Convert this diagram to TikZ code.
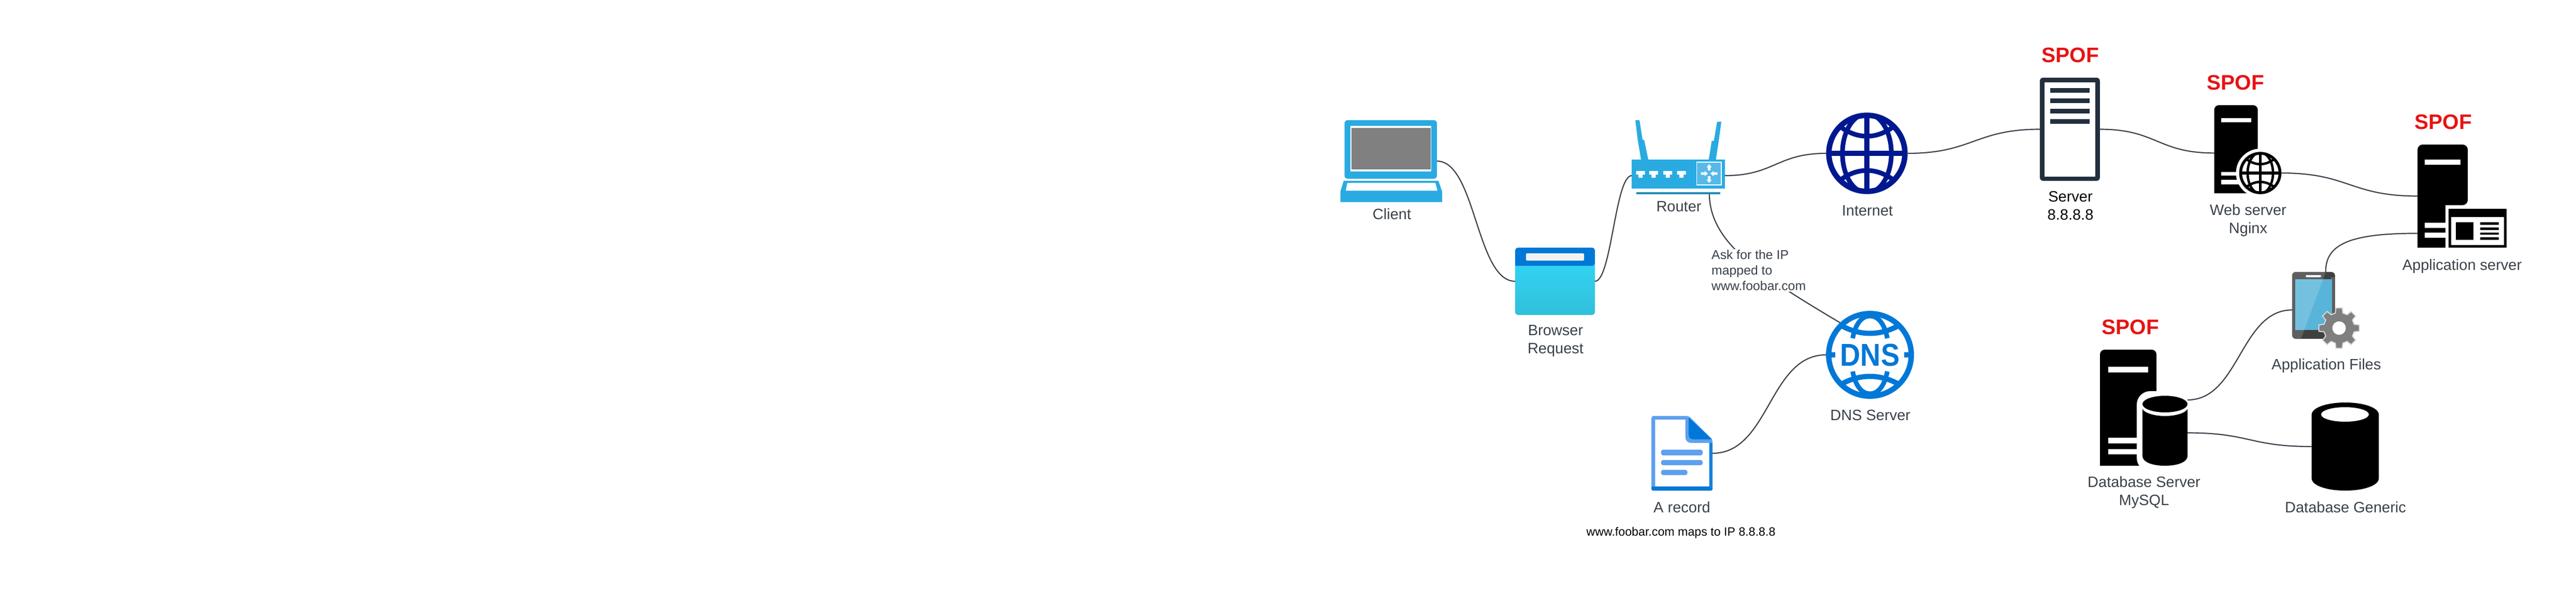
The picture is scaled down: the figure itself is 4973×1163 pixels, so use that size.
\documentclass[tikz,border=0pt]{standalone}
\usepackage{fontspec}
\setmainfont{Liberation Sans}
\definecolor{labelc}{HTML}{3A414A}
\definecolor{lapblue}{HTML}{29ABE2}
\definecolor{panelc}{HTML}{56B9E8}
\definecolor{barc}{HTML}{1F88B8}
\definecolor{msblue}{HTML}{0078D7}
\definecolor{cyanb}{HTML}{32D4F5}
\definecolor{cyanc}{HTML}{31C0DB}
\definecolor{navy}{HTML}{00188F}
\definecolor{servc}{HTML}{232F3E}
\definecolor{spofc}{HTML}{E81313}
\definecolor{docl}{HTML}{5EA0EF}
\definecolor{phoned}{HTML}{404040}
\definecolor{phonem}{HTML}{5F5F5F}
\definecolor{scrd}{HTML}{59B4D9}
\definecolor{scrl}{HTML}{74C1DF}
\definecolor{gearc}{HTML}{7F7F7F}
\newcommand{\myglobe}[4]{%
  \begin{scope}[shift={(#1,#2)},x=#3pt,y=#3pt]
    \begin{scope}
      \clip (0,0) circle [radius=.97];
      \draw[#4,line width={0.125*#3 pt}] (0,-1) -- (0,1);
      \draw[#4,line width={0.125*#3 pt}] (-1,0) -- (1,0);
      \draw[#4,line width={0.115*#3 pt}] (0,0) ellipse [x radius=.6,y radius=.97];
      \draw[#4,line width={0.115*#3 pt}] (-.8,-.78) .. controls (-.3,-.3) and (.3,-.3) .. (.8,-.78);
      \draw[#4,line width={0.115*#3 pt}] (-.8,.78) .. controls (-.3,.3) and (.3,.3) .. (.8,.78);
    \end{scope}
    \draw[#4,line width={0.135*#3 pt}] (0,0) circle [radius=.9325];
  \end{scope}}
\tikzset{
  iconbox/.style 2 args={rectangle,inner sep=0pt,outer sep=0pt,minimum width=#1pt,minimum height=#2pt},
  iconround/.style={circle,inner sep=0pt,outer sep=0pt,minimum size=#1pt},
  link/.style={draw=labelc,line width=2.2pt},
  lab/.style={font=\fontsize{29}{35}\selectfont,text=labelc,inner sep=0pt,align=center},
  labk/.style={font=\fontsize{29}{35}\selectfont,text=black,inner sep=0pt,align=center},
  asklab/.style={font=\fontsize{24.8}{30}\selectfont,text=labelc,inner sep=2pt,align=left,fill=white,anchor=west},
  notelab/.style={font=\fontsize{23.2}{28}\selectfont,text=black,inner sep=0pt},
  spof/.style={font=\fontsize{40.6}{48}\selectfont\bfseries,text=spofc,inner sep=0pt},
}
\begin{document}
\begin{tikzpicture}[x=1pt,y=-1pt]
\useasboundingbox (0,0) rectangle (4973,1163);

% Client laptop
\fill[lapblue,rounded corners=6] (2595.6,232) rectangle (2774,345);
\fill[white] (2607,243) rectangle (2763,331);
\fill[gray!100] (2609,247) rectangle (2762,327);
\fill[lapblue] (2594,349) -- (2777,349) -- (2784,370) -- (2784,390) -- (2587.5,390) -- (2587.5,370) -- cycle;
\fill[white] (2601,353) -- (2771,353) -- (2775,368) -- (2598,368) -- cycle;
\node[iconbox={178.4}{158}] (client) at (2684.8,311) {};

% Browser
\shade[top color=cyanb,middle color=cyanb,bottom color=cyanc,rounded corners=6] (2925,500) rectangle (3079,608);
\fill[msblue] (2925,513) [rounded corners=6] -- (2925,478) -- (3079,478) -- (3079,513) [sharp corners] -- cycle;
\fill[black!5,rounded corners=2] (2946,489) rectangle (3058,503);
\node[iconbox={154}{130}] (browser) at (3002,543) {};

% Router
\fill[lapblue] (3157,232) -- (3165,232) -- (3171,270) -- (3174,270) -- (3182,308) -- (3168,308) -- (3161.6,270) -- cycle;
\fill[lapblue] (3315,235) -- (3323,235) -- (3318,272) -- (3312.5,308) -- (3298.7,308) -- (3304.5,272) -- (3308.5,272) -- cycle;
\fill[lapblue] (3150,308) rectangle (3330,364);
\fill[barc] (3158.5,371) rectangle (3321,375);
\foreach \cx in {3167,3192.4,3219.6,3246}{
  \fill[white] ({\cx-8.5},330) -- ({\cx+8.5},330) -- ({\cx+8.5},337) -- ({\cx+4},337) -- ({\cx+4},343) -- ({\cx-4},343) -- ({\cx-4},337) -- ({\cx-8.5},337) -- cycle;
}
\fill[panelc,draw=white,line width=1.2pt] (3275.4,313) rectangle (3323,357);
\fill[white] (3299.5,316.7) -- (3304.5,323) -- (3302,323) -- (3302,329) -- (3297,329) -- (3297,323) -- (3294.5,323) -- cycle;
\fill[white] (3299.5,353) -- (3304.5,347) -- (3302,347) -- (3302,340) -- (3297,340) -- (3297,347) -- (3294.5,347) -- cycle;
\fill[white] (3297,335) -- (3291,330) -- (3291,332.7) -- (3283.5,332.7) -- (3283.5,337.3) -- (3291,337.3) -- (3291,340) -- cycle;
\fill[white] (3302,335) -- (3308,330) -- (3308,332.7) -- (3315.6,332.7) -- (3315.6,337.3) -- (3308,337.3) -- (3308,340) -- cycle;
\node[iconbox={180}{72}] (router) at (3240,339) {};

% Internet globe
\myglobe{3604}{296}{78.7}{navy}
\node[iconround=157.4] (internet) at (3604,296) {};

% DNS globe
\begin{scope}[shift={(3610,685)}]
  \begin{scope}
    \clip (0,0) circle [radius=82];
    \draw[msblue,line width=10pt] (-58,-58) .. controls (-20,-36) and (20,-36) .. (58,-58);
    \draw[msblue,line width=10pt] (-58,58) .. controls (-20,36) and (20,36) .. (58,58);
    \draw[msblue,line width=9pt] (-33.5,-32) .. controls (-28,-60) and (-16,-75) .. (0,-75) .. controls (16,-75) and (28,-60) .. (33.5,-32);
    \draw[msblue,line width=9pt] (-33.5,32) .. controls (-28,60) and (-16,75) .. (0,75) .. controls (16,75) and (28,60) .. (33.5,32);
  \end{scope}
  \draw[msblue,line width=10.5pt] (0,0) circle [radius=79.7];
  \draw[msblue,line width=10pt] (-85,0) -- (-67,0);
  \draw[msblue,line width=10pt] (66,0) -- (84,0);
\end{scope}
\node[text=msblue,inner sep=0pt,font=\fontsize{61}{61}\selectfont\bfseries] (dnsword) at (3610,685) {\scalebox{.89}[1]{DNS}};
\node[iconround=170] (dns) at (3610,685) {};

% A record document
\fill[docl,rounded corners=4] (3188,947) -- (3188,803) -- (3260,803) -- (3306,849) -- (3306,947) -- cycle;
\fill[white] (3195.4,939) -- (3195.4,810) -- (3253.6,810) -- (3253.6,843) .. controls (3253.6,851) and (3258,855) .. (3265,855) -- (3299.5,855) -- (3299.5,939) -- cycle;
\fill[msblue] (3260,806) -- (3305,848) -- (3268,848) .. controls (3263,848) and (3260,844) .. (3260,838) -- cycle;
\fill[msblue,rounded corners=3] (3188,939) rectangle (3306,947);
\fill[msblue!80!docl] (3299.5,855) rectangle (3306,942);
\fill[docl,rounded corners=4] (3206.6,868) rectangle (3287,879);
\fill[docl,rounded corners=4] (3206.6,888) rectangle (3287,898);
\fill[docl,rounded corners=4] (3206.6,907) rectangle (3257.6,917);
\node[iconbox={118}{144}] (arecord) at (3247,875) {};

% Server frame
\fill[servc,rounded corners=6] (3938,150) rectangle (4053.7,349);
\fill[white] (3947,159) rectangle (4044.7,340.5);
\foreach \yy in {170,190,210,229.5}{
  \fill[servc] (3958,\yy) rectangle (4034,{\yy+9.2});
}
\node[iconbox={115.7}{199}] (server) at (3995.8,249.5) {};

% Web server
\fill[black] (4274.6,373) [rounded corners=9] -- (4274.6,203) -- (4358.6,203) -- (4358.6,373) [sharp corners] -- cycle;
\fill[white] (4287.6,228) rectangle (4346,236);
\fill[white] (4287.6,331.7) rectangle (4330,339);
\fill[white] (4287.6,347) rectangle (4330,356);
\fill[white] (4363.5,334) circle [radius=47];
\fill[white] (4340,373) rectangle (4410,380);
\myglobe{4363.5}{334}{40.8}{black}
\node[iconbox={84}{170}] (webtower) at (4316.6,288) {};
\node[iconround=81.6] (webglobe) at (4363.5,334) {};

% Application server
\fill[black] (4667,478) [rounded corners=10] -- (4667,279) -- (4764,279) -- (4764,396) [sharp corners] -- (4720.7,396) -- (4720.7,478) -- cycle;
\fill[white] (4681,308) rectangle (4750,318);
\fill[white] (4681,430) rectangle (4720.7,440);
\fill[white] (4681,449) rectangle (4720.7,459);
\fill[black] (4727,403) rectangle (4839,478);
\fill[white] (4731.7,419) rectangle (4834,472.7);
\fill[black] (4741,429) rectangle (4775,462.7);
\fill[black] (4788,429) rectangle (4824,434);
\fill[black] (4788,439) rectangle (4824,444);
\fill[black] (4788,449) rectangle (4824,453);
\fill[black] (4788,458) rectangle (4824,463);
\node[iconbox={97}{199}] (app) at (4715.5,378.5) {};

% Application files phone
\fill[phoned,rounded corners=7] (4425,525) rectangle (4507.7,654);
\begin{scope}
  \clip[rounded corners=7] (4425,525) rectangle (4507.7,654);
  \fill[phonem] (4425,525) -- (4490,525) -- (4442,654) -- (4425,654) -- cycle;
\end{scope}
\fill[phonem] (4500,535) rectangle (4507.7,640);
\fill[scrd] (4431,539) rectangle (4502,637);
\fill[scrl] (4431,539) -- (4484.7,539) -- (4448.2,637) -- (4431,637) -- cycle;
\fill[white,rounded corners=2] (4451,531) rectangle (4481,535);
\node[iconbox={82.7}{129}] (phone) at (4466.3,589.5) {};
\begin{scope}[shift={(4515.6,633.3)}]
  \filldraw[gearc,draw=black!15,line width=2pt] (-14:30) foreach \a in {0,45,...,315} {-- ({\a-14}:30) -- ({\a-9}:39.5) -- ({\a+9}:39.5) -- ({\a+14}:30)} -- cycle;
  \fill[white] (0,0) circle [radius=13];
\end{scope}

% Database server
\fill[black] (4054,899) [rounded corners=9] -- (4054,675) -- (4163,675) -- (4163,780) [sharp corners] -- (4163,899) -- cycle;
\fill[white] (4070,708) rectangle (4147,719);
\fill[white] (4070,845) rectangle (4130,856);
\fill[white] (4070,867) rectangle (4130,877);
\fill[white,rounded corners=26] (4125,755) rectangle (4240,910);
\fill[white] (4140,899.5) rectangle (4240,912);
\fill[black] (4136,785) -- (4223,785) -- (4223,880) .. controls (4223,892) and (4204,899) .. (4179.5,899) .. controls (4155,899) and (4136,892) .. (4136,880) -- cycle;
\fill[white] (4179.5,785) ellipse [x radius=45,y radius=18];
\fill[black] (4179.5,780) ellipse [x radius=43.5,y radius=16];
\node[iconbox={87}{127}] (dbcyl) at (4179.5,835.5) {};

% Database generic
\fill[black] (4462.5,801) -- (4462.5,923) .. controls (4462.5,937) and (4491,947) .. (4527.5,947) .. controls (4564,947) and (4592.4,937) .. (4592.4,923) -- (4592.4,801) .. controls (4592.4,787) and (4564,777) .. (4527.5,777) .. controls (4491,777) and (4462.5,787) .. (4462.5,801) -- cycle;
\fill[white] (4527,800) ellipse [x radius=46,y radius=14];
\node[iconbox={130}{170}] (dbgen) at (4527.5,862) {};

% Connectors
\draw[link] (client.east) .. controls +(75,0) and +(-75,0) .. (browser.west);
\draw[link] (browser.east) .. controls +(32,0) and +(-32,0) .. (router.west);
\draw[link] (router.east) .. controls +(95,0) and +(-95,0) .. (internet.west);
\draw[link] (internet.east) .. controls +(125,0) and +(-125,0) .. (server.west);
\draw[link] (server.east) .. controls +(110,0) and +(-110,0) .. (webtower.190);
\draw[link] (webglobe.east) .. controls +(130,0) and +(-130,0) .. (app.west);
\draw[link] (app.236) .. controls +(-127,0) and (4489,470) .. (phone.70);
\draw[link] (dbcyl.north east) .. controls +(100,0) and +(-100,0) .. (phone.192);
\draw[link] (dbcyl.east) .. controls +(120,0) and +(-120,0) .. (dbgen.west);
\draw[link] (arecord.east) .. controls +(110,0) and +(-110,0) .. (dns.west);
\draw[link] (router.-31) .. controls (3301,470) and (3401,533) .. (dns.133);

% Labels
\node[asklab] (asktext) at (3302,522) {Ask for the IP\\mapped to\\www.foobar.com};
\node[lab] (clientlab) at (2687,413) {Client};
\node[lab] (browserlab) at (3003,658) {Browser\\Request};
\node[lab] (routerlab) at (3241,399) {Router};
\node[lab] (internetlab) at (3605,407) {Internet};
\node[lab] (dnslab) at (3610.7,802) {DNS Server};
\node[lab] (arecordlab) at (3247,979) {A record};
\node[notelab] (notelabel) at (3245,1028) {www.foobar.com maps to IP 8.8.8.8};
\node[labk] (serverlab) at (3997,397) {Server\\8.8.8.8};
\node[lab] (weblab) at (4340,425) {Web server\\Nginx};
\node[lab] (applab) at (4753,514) {Application server};
\node[lab] (fileslab) at (4491,706) {Application Files};
\node[lab] (dblab) at (4139,950) {Database Server\\MySQL};
\node[lab] (dbgenlab) at (4528,979) {Database Generic};
\node[spof] (spofa) at (3996.5,107) {SPOF};
\node[spof] (spofb) at (4315.7,160) {SPOF};
\node[spof] (spofc) at (4716.7,236) {SPOF};
\node[spof] (spofd) at (4113,632) {SPOF};
\end{tikzpicture}
\end{document}
